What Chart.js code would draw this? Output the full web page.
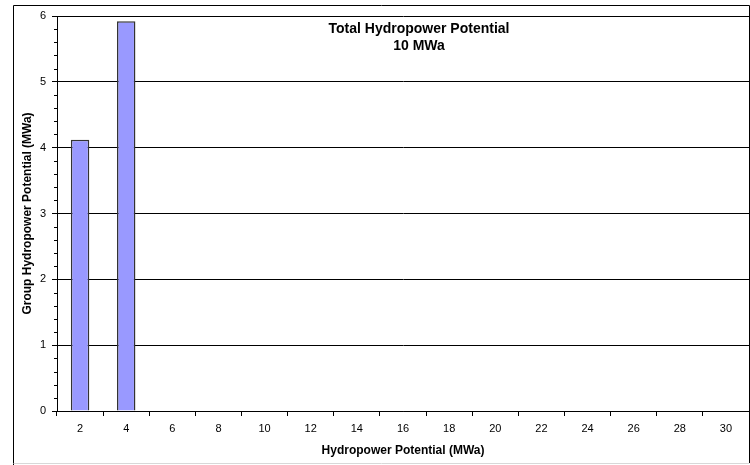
<!DOCTYPE html>
<html>
<head>
<meta charset="utf-8">
<style>
  html, body { margin: 0; padding: 0; background: #fff; }
  #wrap { position: relative; width: 750px; height: 465px; }
</style>
<script src="https://cdn.jsdelivr.net/npm/chart.js"></script>
</head>
<body>
<div id="wrap"><canvas id="chart"></canvas></div>
<script>
// chart values
const categories = ['2', '4', '6', '8', '10', '12', '14', '16', '18', '20', '22', '24', '26', '28', '30'];
const potential = [4.12, 5.92, 0, 0, 0, 0, 0, 0, 0, 0, 0, 0, 0, 0, 0];
const titleLines = ['Total Hydropower Potential', '10 MWa'];

const FONT = 'Arial, "Liberation Sans", sans-serif';

// frame, minor ticks and the in-plot title
const extras = {
  id: 'extras',
  afterDraw(chart) {
    const c = chart.ctx;
    const a = chart.chartArea;
    const y = chart.scales.y;
    c.save();
    // minor ticks on y axis
    c.strokeStyle = '#000';
    c.lineWidth = 1;
    for (let v = 0; v < 6; v += 0.2) {
      if (Math.abs(v - Math.round(v)) < 0.01) continue;
      const py = Math.round(y.getPixelForValue(v)) + 0.5;
      c.beginPath();
      c.moveTo(a.left - 3, py);
      c.lineTo(a.left, py);
      c.stroke();
    }
    // outer frame
    c.beginPath();
    c.moveTo(13.5, 465);
    c.lineTo(13.5, 5.5);
    c.lineTo(749.5, 5.5);
    c.lineTo(749.5, 463);
    c.stroke();
    c.strokeStyle = '#d8d8d8';
    c.beginPath();
    c.moveTo(13.5, 463.5);
    c.lineTo(749.5, 463.5);
    c.stroke();
    // title
    c.fillStyle = '#000';
    c.font = 'bold 14px ' + FONT;
    c.textAlign = 'center';
    c.textBaseline = 'middle';
    c.fillText(titleLines[0], 419, 29);
    c.fillText(titleLines[1], 419, 46);
    c.restore();
  }
};

new Chart(document.getElementById('chart'), {
  type: 'bar',
  data: {
    labels: categories,
    datasets: [{
      data: potential,
      backgroundColor: '#9999ff',
      borderColor: '#333333',
      borderWidth: 1.5,
      barPercentage: 0.8,
      categoryPercentage: 0.5
    }]
  },
  options: {
    responsive: true,
    maintainAspectRatio: false,
    animation: false,
    events: [],
    layout: { padding: { left: 14, top: 16, right: 1, bottom: 3 } },
    plugins: { legend: { display: false }, tooltip: { enabled: false }, title: { display: false } },
    scales: {
      x: {
        offset: true,
        afterFit(s) { s.height = 51; },
        border: { color: '#000', width: 1 },
        grid: { offset: true, drawOnChartArea: false, drawTicks: true, tickLength: 5, color: '#000' },
        ticks: { color: '#000', font: { family: FONT, size: 11 }, maxRotation: 0, autoSkip: false, padding: 6 },
        title: { display: true, text: 'Hydropower Potential (MWa)', color: '#000', font: { family: FONT, size: 12, weight: 'bold' }, padding: { top: 2 } }
      },
      y: {
        min: 0,
        max: 6,
        afterFit(s) { s.width = 43; },
        border: { color: '#000', width: 1 },
        grid: { color: '#000', tickLength: 5, drawTicks: true },
        ticks: { stepSize: 1, color: '#000', font: { family: FONT, size: 11 }, padding: 6 },
        title: { display: true, text: 'Group Hydropower Potential (MWa)', color: '#000', font: { family: FONT, size: 12, weight: 'bold' }, padding: { top: 6, bottom: 2 } }
      }
    }
  },
  plugins: [extras]
});
</script>
</body>
</html>
